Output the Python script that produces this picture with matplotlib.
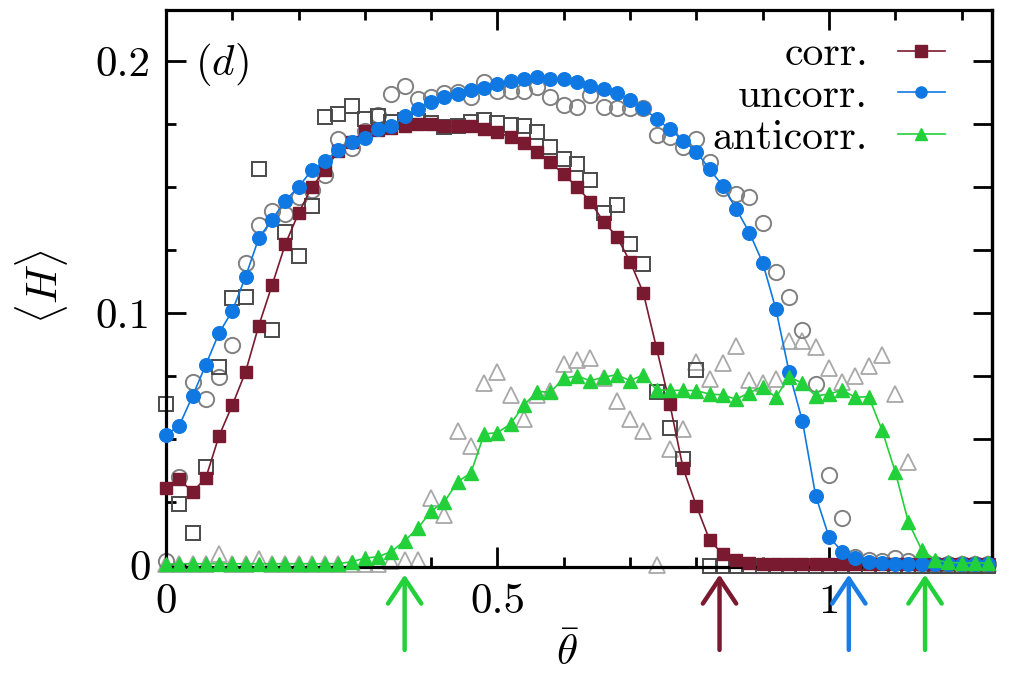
import numpy as np
import matplotlib
matplotlib.use("Agg")
import matplotlib.pyplot as plt
from matplotlib.ticker import MultipleLocator

plt.rcParams['mathtext.fontset'] = 'cm'
plt.rcParams['axes.formatter.use_mathtext'] = True

# ---------------- data ----------------
theta = [round(0.02 * i, 2) for i in range(63)]

corr = [0.0304, 0.034, 0.029, 0.0345, 0.0512, 0.0634, 0.0766, 0.095, 0.111, 0.1273,
        0.1396, 0.150, 0.1567, 0.1644, 0.168, 0.172, 0.1726, 0.1733, 0.174, 0.1749,
        0.1749, 0.1742, 0.1742, 0.174, 0.173, 0.1717, 0.1697, 0.1673, 0.1638, 0.1598,
        0.155, 0.150, 0.1442, 0.1362, 0.1303, 0.1204, 0.108, 0.086, 0.0639, 0.0384,
        0.0235, 0.0099, 0.0042, 0.002, 0.0008, 0.0004, 0.0004, 0.0003, 0.0003, 0.0003,
        0.0003, 0.0003, 0.0003, 0.0003, 0.0003, 0.0003, 0.0003, 0.0003, 0.0003, 0.0003,
        0.0003, 0.0003, 0.0003]

uncorr = [0.0516, 0.0553, 0.067, 0.0794, 0.092, 0.1008, 0.1144, 0.1297, 0.137, 0.1446,
          0.150, 0.1567, 0.1604, 0.1647, 0.1677, 0.1693, 0.1729, 0.174, 0.178, 0.181,
          0.1836, 0.1858, 0.1869, 0.1885, 0.1892, 0.1908, 0.1922, 0.1927, 0.1938, 0.1927,
          0.1927, 0.1918, 0.190, 0.189, 0.1874, 0.1845, 0.1812, 0.177, 0.1729, 0.1684,
          0.164, 0.157, 0.1504, 0.1413, 0.1319, 0.12, 0.1015, 0.0765, 0.0571, 0.0275,
          0.0112, 0.0053, 0.0027, 0.0011, 0.0006, 0.0004, 0.0004, 0.0003, 0.0003, 0.0003,
          0.0003, 0.0003, 0.0003]

anticorr = [0.0003, 0.0005, 0.0005, 0.0005, 0.0005, 0.0005, 0.0005, 0.0005, 0.0005, 0.0005,
            0.0005, 0.0005, 0.0005, 0.0005, 0.0013, 0.0027, 0.0033, 0.0053, 0.0096, 0.0146,
            0.0214, 0.0251, 0.033, 0.0366, 0.052, 0.0525, 0.056, 0.0635, 0.0688, 0.0686,
            0.0741, 0.075, 0.0731, 0.0745, 0.0755, 0.0731, 0.0755, 0.0695, 0.0693, 0.0693,
            0.0692, 0.0678, 0.0675, 0.0657, 0.0684, 0.0708, 0.0665, 0.0747, 0.0721, 0.0671,
            0.0678, 0.0694, 0.0665, 0.0668, 0.0536, 0.037, 0.0169, 0.006, 0.002, 0.001,
            0.0008, 0.0008, 0.0008]

corr_alt = [0.064, 0.024, 0.0126, 0.039, 0.0787, 0.106, 0.1065, 0.157, 0.0933, 0.132,
            0.1227, 0.1426, 0.1777, 0.1788, 0.1823, 0.177, 0.178, 0.1757, 0.1766, 0.176,
            0.1753, 0.1737, 0.1742, 0.1759, 0.1766, 0.1755, 0.1746, 0.1742, 0.1716, 0.166,
            0.161, 0.159, 0.1528, 0.1396, 0.1429, 0.1274, 0.1193, 0.0688, 0.0545, 0.042,
            0.0774, -0.0004, -0.0004, -0.0004, -0.0004, -0.0004, -0.0004, -0.0004, -0.0004, -0.0004,
            -0.0004, -0.0004, -0.0004, -0.0004, -0.0004, -0.0004, -0.0004, -0.0004, -0.0004, -0.0004,
            -0.0004, -0.0004, -0.0004]

uncorr_alt = [0.0016, 0.0348, 0.0728, 0.0659, 0.0745, 0.0873, 0.1197, 0.1347, 0.1405, 0.1393,
              0.1459, 0.1488, 0.1548, 0.169, 0.1656, 0.172, 0.1786, 0.1868, 0.190, 0.1849,
              0.1856, 0.1873, 0.1875, 0.1858, 0.1915, 0.1882, 0.1882, 0.1882, 0.1896, 0.1858,
              0.1825, 0.1818, 0.1865, 0.1818, 0.1815, 0.1815, 0.1815, 0.1706, 0.170, 0.166,
              0.169, 0.1597, 0.1495, 0.1472, 0.1459, 0.1358, 0.1164, 0.1065, 0.0933, 0.0718,
              0.0357, 0.0185, 0.003, 0.002, 0.0016, 0.0027, 0.0016, 0.0016, 0.0005, 0.0005,
              0.0005, 0.0005, 0.0005]

anticorr_alt = [0.0005, 0.0005, 0.0005, 0.0005, 0.0042, 0.0005, 0.0005, 0.0024, 0.0005, 0.0005,
                0.0005, 0.0005, 0.0005, 0.0005, 0.0005, 0.0005, 0.0005, 0.0016, 0.002, 0.002,
                0.0265, 0.020, 0.0533, 0.0473, 0.0721, 0.0767, 0.0675, 0.0578, 0.0675, 0.069,
                0.0796, 0.0813, 0.0823, 0.074, 0.0652, 0.058, 0.0533, 0.0, 0.046, 0.054,
                0.0807, 0.0737, 0.080, 0.0869, 0.0734, 0.0721, 0.0737, 0.089, 0.089, 0.0866,
                0.0783, 0.0728, 0.075, 0.079, 0.0833, 0.068, 0.041, 0.0005, 0.0005, 0.0005,
                0.0005, 0.0005, 0.0005]

arrow_x = [0.36, 0.835, 1.03, 1.145]
arrow_colors = ['#22d03a', '#7a1a30', '#1a7de6', '#22d03a']

labels = ['corr.', 'uncorr.', 'anticorr.']
xtick_vals = [0, 0.5, 1]
xtick_labels = ['0', '0.5', '1']
ytick_vals = [0, 0.1, 0.2]
ytick_labels = ['0', '0.1', '0.2']

# ---------------- style ----------------
C_CORR = '#7a1a30'
C_UNC = '#0f78e2'
C_ANTI = '#22d03a'
FS = 31

fig = plt.figure(figsize=(10.09, 6.73), dpi=100)
ax = fig.add_axes([166 / 1009, 1 - 567 / 673, 826 / 1009, 557 / 673])

# gray open markers (other data set)
ax.plot(theta, anticorr_alt, linestyle='none', marker='^', ms=11, mfc='none',
        mec='#a8a8a8', mew=1.3, clip_on=False, zorder=2)
ax.plot(theta, uncorr_alt, linestyle='none', marker='o', ms=11, mfc='none',
        mec='#808080', mew=1.4, clip_on=False, zorder=2)
ax.plot(theta, corr_alt, linestyle='none', marker='s', ms=10, mfc='none',
        mec='#4a4a4a', mew=1.4, clip_on=False, zorder=2)

# main series
h1, = ax.plot(theta, corr, '-', color=C_CORR, lw=1.2, marker='s', ms=8.5,
              mec=C_CORR, mfc=C_CORR, clip_on=False, zorder=3)
h2, = ax.plot(theta, uncorr, '-', color=C_UNC, lw=1.2, marker='o', ms=9.8,
              mec=C_UNC, mfc=C_UNC, clip_on=False, zorder=4)
h3, = ax.plot(theta, anticorr, '-', color=C_ANTI, lw=1.2, marker='^', ms=10,
              mec=C_ANTI, mfc=C_ANTI, clip_on=False, zorder=5)

ax.set_xlim(0, 1.246)
ax.set_ylim(-0.0008, 0.2202)

# ticks
ax.set_xticks(xtick_vals)
ax.set_xticklabels(xtick_labels, fontfamily='cmr10', fontsize=FS)
ax.xaxis.set_minor_locator(MultipleLocator(0.1))
ax.set_yticks(ytick_vals)
ax.set_yticklabels(ytick_labels, fontfamily='cmr10', fontsize=FS)
ax.yaxis.set_minor_locator(MultipleLocator(0.025))
ax.tick_params(which='both', direction='in', top=True, right=False, width=2.0)
ax.tick_params(which='major', length=14.5)
ax.tick_params(which='minor', length=7.5)
ax.tick_params(axis='y', which='major', pad=11)
ax.tick_params(axis='x', which='major', pad=12)

# right side: all ticks long
sec = ax.secondary_yaxis('right')
sec.yaxis.set_major_locator(MultipleLocator(0.025))
sec.tick_params(direction='in', length=14, width=2.0, labelright=False)
sec.spines['right'].set_linewidth(2.3)

for s in ax.spines.values():
    s.set_linewidth(2.3)

# legend
leg = ax.legend([h1, h2, h3], labels, loc='upper right', markerfirst=False,
                frameon=False, prop={'family': 'cmr10', 'size': FS - 1},
                handlelength=1.13, handletextpad=0.72, labelspacing=0.1,
                borderpad=0, borderaxespad=0,
                bbox_to_anchor=((945 - 166) / 826, (567 - 36) / 557))
for lh in leg.legend_handles:
    lh.set_markersize(8)

# panel label
ax.text((195 - 166) / 826, (567 - 65) / 557, r'$(d)$', fontsize=FS,
        ha='left', va='center', transform=ax.transAxes)

# axis labels
fig.text(41 / 1009, 1 - 287 / 673, r'$\langle H\rangle$', fontsize=FS,
         rotation=90, ha='center', va='center')
fig.text(567 / 1009, 1 - 653 / 673, r'$\bar{\theta}$', fontsize=FS,
         ha='center', va='center')

# arrows below axis
for xa, ca in zip(arrow_x, arrow_colors):
    ax.annotate('', xy=(xa, -0.0038), xytext=(xa, -0.0337),
                xycoords='data', textcoords='data', annotation_clip=False,
                arrowprops=dict(arrowstyle='->,head_length=0.6,head_width=0.4',
                                color=ca, lw=3.2, mutation_scale=30,
                                shrinkA=0, shrinkB=0))

fig.savefig('out.png', dpi=100)
